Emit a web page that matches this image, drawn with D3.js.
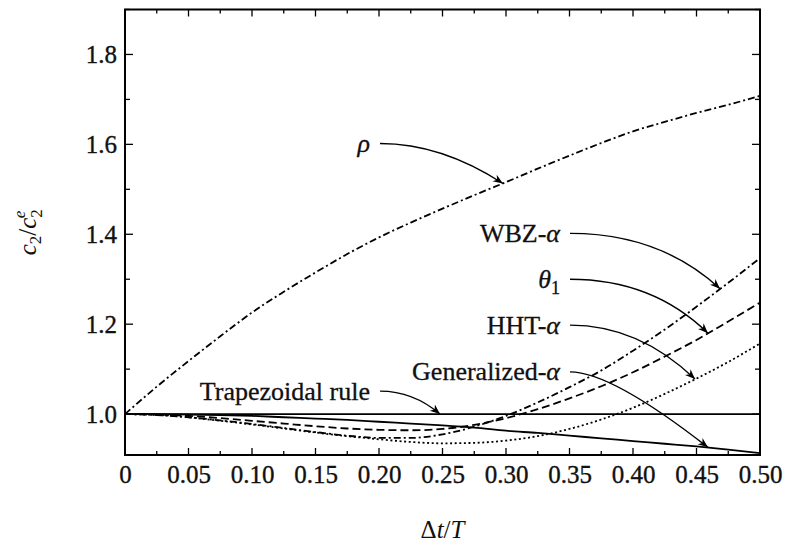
<!DOCTYPE html>
<html><head><meta charset="utf-8">
<script src="https://cdn.jsdelivr.net/npm/d3@7"></script>
<style>body{margin:0;background:#fff}svg{display:block}</style>
</head><body><svg id="c" width="787" height="549"></svg>
<script>
// ---- data ----
const tValues = [0,0.025,0.05,0.075,0.1,0.125,0.15,0.175,0.2,0.225,0.25,0.275,0.3,0.325,0.35,0.375,0.4,0.425,0.45,0.475,0.5];
const rho      = [1.000,1.061,1.118,1.173,1.226,1.272,1.315,1.356,1.393,1.426,1.457,1.487,1.516,1.546,1.575,1.603,1.629,1.650,1.670,1.688,1.708];
const wbzAlpha = [1.000,0.998,0.993,0.986,0.978,0.969,0.960,0.952,0.947,0.947,0.955,0.972,0.996,1.026,1.060,1.097,1.141,1.188,1.239,1.292,1.347];
const theta1   = [1.000,0.999,0.996,0.991,0.985,0.979,0.973,0.968,0.965,0.964,0.967,0.976,0.991,1.011,1.035,1.062,1.093,1.128,1.165,1.206,1.248];
const hhtAlpha = [1.000,0.998,0.993,0.985,0.977,0.968,0.959,0.951,0.944,0.938,0.935,0.936,0.941,0.951,0.967,0.988,1.014,1.045,1.079,1.116,1.157];
const genAlpha = [1.000,1.000,0.999,0.998,0.996,0.993,0.990,0.987,0.983,0.979,0.975,0.970,0.963,0.958,0.952,0.946,0.940,0.934,0.928,0.921,0.913];
const trapRule = [1,1,1,1,1,1,1,1,1,1,1,1,1,1,1,1,1,1,1,1,1];

const xTickValues = [0,0.05,0.10,0.15,0.20,0.25,0.30,0.35,0.40,0.45,0.50];
const xTickLabels = ["0","0.05","0.10","0.15","0.20","0.25","0.30","0.35","0.40","0.45","0.50"];
const yTickValues = [1.0,1.2,1.4,1.6,1.8];
const yTickLabels = ["1.0","1.2","1.4","1.6","1.8"];

// annotations: label, start of leader [t, value], arrow tip [t, value], bend
const annLabels = ["rho","WBZ","theta1","HHT","Gen","Trap"];
const annStart  = [[0.2008,1.602],[0.3504,1.402],[0.3504,1.300],[0.3504,1.198],[0.3504,1.094],[0.2008,1.051]];
const annTip    = [[0.2976,1.513],[0.4685,1.279],[0.459,1.180],[0.4488,1.078],[0.459,0.926],[0.248,1.000]];
const annBend   = [0.5,0.6,0.6,0.55,0.3,0.55];

// ---- layout ----
const svg = d3.select("#c");
const L = 125, R = 760, T = 9.5, B = 455;
const x = d3.scaleLinear().domain([0,0.5]).range([L,R]);
const y = d3.scaleLinear().domain([0.909,1.900]).range([B,T]);
const serif = "'Liberation Serif','DejaVu Serif',serif";

// frame
svg.append("rect").attr("x",L).attr("y",T).attr("width",R-L).attr("height",B-T)
  .attr("fill","none").attr("stroke","#000").attr("stroke-width",2);

// ticks (inward) on all four sides
const xMinor = d3.range(0,0.5001,0.025);
const gTicks = svg.append("g").attr("stroke","#000").attr("stroke-width",1.3);
xMinor.forEach((v,i)=>{
  const len = (i%2===0) ? 7 : 4;
  gTicks.append("line").attr("x1",x(v)).attr("x2",x(v)).attr("y1",B).attr("y2",B-len);
  gTicks.append("line").attr("x1",x(v)).attr("x2",x(v)).attr("y1",T).attr("y2",T+len);
});
const yMinor = d3.range(1.0,1.9001,0.1);
yMinor.forEach((v,i)=>{
  const len = (i%2===0) ? 8 : 5;
  gTicks.append("line").attr("x1",L).attr("x2",L+len).attr("y1",y(v)).attr("y2",y(v));
  gTicks.append("line").attr("x1",R).attr("x2",R-len).attr("y1",y(v)).attr("y2",y(v));
});

// tick labels through d3 axes
const xAxis = d3.axisBottom(x).tickValues(xTickValues).tickSize(0).tickPadding(10)
  .tickFormat((d,i)=>xTickLabels[i]);
const gx = svg.append("g").attr("transform",`translate(0,${B})`).call(xAxis);
gx.select(".domain").remove();
gx.selectAll("text").attr("font-family",serif).attr("font-size",25).attr("fill","#111")
  .attr("stroke","#111").attr("stroke-width",0.35);

const yAxis = d3.axisLeft(y).tickValues(yTickValues).tickSize(0).tickPadding(8)
  .tickFormat((d,i)=>yTickLabels[i]);
const gy = svg.append("g").attr("transform",`translate(${L},0)`).call(yAxis);
gy.select(".domain").remove();
gy.selectAll("text").attr("font-family",serif).attr("font-size",25).attr("fill","#111")
  .attr("stroke","#111").attr("stroke-width",0.35);

// axis titles
const xt = svg.append("text").attr("x",(L+R)/2).attr("y",538).attr("text-anchor","middle")
  .attr("font-family",serif).attr("font-size",25).attr("fill","#111");
xt.append("tspan").text("Δ");
xt.append("tspan").attr("font-style","italic").text("t");
xt.append("tspan").text("/");
xt.append("tspan").attr("font-style","italic").text("T");

const yt = svg.append("text").attr("transform",`translate(36,${(T+B)/2}) rotate(-90)`)
  .attr("text-anchor","middle").attr("font-family",serif).attr("font-size",25).attr("fill","#111");
yt.append("tspan").attr("font-style","italic").text("c");
yt.append("tspan").attr("font-size",17).attr("dy",5).text("2");
yt.append("tspan").attr("dy",-5).text("/");
yt.append("tspan").attr("font-style","italic").text("c");
yt.append("tspan").attr("font-size",17).attr("dy",6).text("2");
yt.append("tspan").attr("font-size",17).attr("font-style","italic").attr("dx",-9).attr("dy",-17).text("e");

// curves
const series = [
  {v:trapRule, dash:null},
  {v:genAlpha, dash:null},
  {v:hhtAlpha, dash:"2,2.6"},
  {v:theta1,   dash:"8,4"},
  {v:wbzAlpha, dash:"7,3,2,3"},
  {v:rho,      dash:"7,3,2,3"}
];
const line = d3.line().x((d,i)=>x(tValues[i])).y(d=>y(d)).curve(d3.curveMonotoneX);
svg.append("clipPath").attr("id","pc").append("rect")
  .attr("x",L).attr("y",T).attr("width",R-L).attr("height",B-T);
series.forEach(s=>{
  svg.append("path").attr("d",line(s.v)).attr("fill","none").attr("stroke","#000")
    .attr("stroke-width",1.8).attr("stroke-dasharray",s.dash).attr("clip-path","url(#pc)");
});

// arrowhead marker
svg.append("defs").append("marker").attr("id","ah").attr("markerUnits","userSpaceOnUse")
  .attr("viewBox","-10 -5 12 10").attr("refX",0).attr("refY",0)
  .attr("markerWidth",12).attr("markerHeight",10).attr("orient","auto")
  .append("path").attr("d","M0,0 L-10,-4 L-7,0 L-10,4 Z").attr("fill","#000");

// annotations
const labelText = {
  rho: [["ρ",true]],
  WBZ: [["WBZ-",false],["α",true]],
  theta1: [["θ",true],["1",false,"sub"]],
  HHT: [["HHT-",false],["α",true]],
  Gen: [["Generalized-",false],["α",true]],
  Trap: [["Trapezoidal rule",false]]
};
annLabels.forEach((k,i)=>{
  const S = [x(annStart[i][0]), y(annStart[i][1])];
  const E = [x(annTip[i][0]), y(annTip[i][1])];
  const C = [S[0] + annBend[i]*(E[0]-S[0]), S[1]];
  svg.append("path").attr("d",`M${S[0]},${S[1]} Q${C[0]},${C[1]} ${E[0]},${E[1]}`)
    .attr("fill","none").attr("stroke","#000").attr("stroke-width",1.4).attr("marker-end","url(#ah)");
  const t = svg.append("text").attr("x",S[0]-10).attr("y",S[1]).attr("dy","0.33em")
    .attr("text-anchor","end").attr("font-family",serif).attr("font-size",26).attr("fill","#111")
    .attr("stroke","#111").attr("stroke-width",0.3);
  labelText[k].forEach(p=>{
    const ts = t.append("tspan").text(p[0]);
    if(p[1]) ts.attr("font-style","italic");
    if(p[2]==="sub") ts.attr("font-size",18).attr("dy",6);
  });
});
</script>
</body></html>
